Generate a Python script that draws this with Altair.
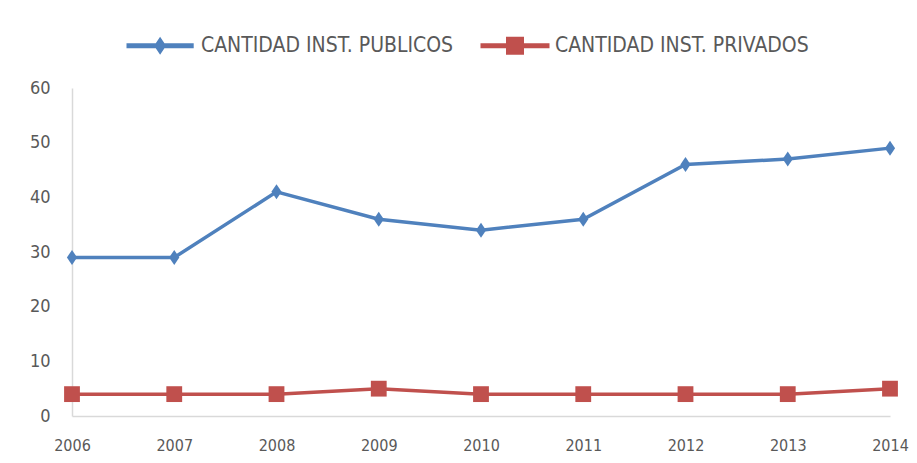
import altair as alt
import pandas as pd

years = ["2006", "2007", "2008", "2009", "2010", "2011", "2012", "2013", "2014"]
publicos = [29, 29, 41, 36, 34, 36, 46, 47, 49]
privados = [4, 4, 4, 5, 4, 4, 4, 4, 5]
series = ["CANTIDAD INST. PUBLICOS", "CANTIDAD INST. PRIVADOS"]
colors = ["#4F81BD", "#C0504D"]

df = pd.DataFrame({
    "year": years * 2,
    "value": publicos + privados,
    "series": [series[0]] * len(years) + [series[1]] * len(years),
})

FONT = "Liberation Sans Narrow, Arial Narrow, DejaVu Sans Condensed, Liberation Sans"

legend_blue = "M-1,-0.4 L10.2,-0.4 L10.2,0.4 L-1,0.4 Z M4.6,-1.5 L5.6,0 L4.6,1.5 L3.6,0 Z"
legend_red = "M-1,-0.4 L10.5,-0.4 L10.5,0.4 L-1,0.4 Z M3.25,-1.5 L6.25,-1.5 L6.25,1.5 L3.25,1.5 Z"

legend = alt.Legend(
    title=None, orient="none", direction="horizontal",
    legendX=50, legendY=-53, padding=0,
    symbolSize=144, symbolStrokeWidth=0, symbolOpacity=1,
    labelOffset=58, columnPadding=22, labelLimit=0,
    labelFont=FONT, labelFontSize=21, labelColor="#595959",
)

x_enc = alt.X("year:O", scale=alt.Scale(type="point", padding=0),
              axis=alt.Axis(title=None, labelAngle=0, ticks=False, grid=False,
                            domainColor="#d9d9d9", domainWidth=1.5,
                            labelFont=FONT, labelFontSize=16, labelColor="#595959",
                            labelPadding=21))
y_enc = alt.Y("value:Q", scale=alt.Scale(domain=[0, 60]),
              axis=alt.Axis(title=None, values=[0, 10, 20, 30, 40, 50, 60], ticks=False,
                            grid=False, domainColor="#d9d9d9", domainWidth=1.5,
                            labelFont=FONT, labelFontSize=18, labelColor="#595959",
                            labelPadding=22))
color_enc = alt.Color("series:N", scale=alt.Scale(domain=series, range=colors), legend=legend)

base = alt.Chart(df)

lines = base.mark_line(strokeWidth=3.5).encode(x=x_enc, y=y_enc, color=color_enc)

pts_pub = base.transform_filter(alt.datum.series == series[0]).mark_point(
    shape="M0,-1.25 L0.85,0 L0,1.25 L-0.85,0 Z", filled=True, size=144, opacity=1
).encode(x=x_enc, y=y_enc, color=color_enc)

pts_priv = base.transform_filter(alt.datum.series == series[1]).mark_point(
    shape="square", filled=True, size=250, opacity=1
).encode(x=x_enc, y=y_enc, color=color_enc)

legend_layer = base.mark_point(filled=True, opacity=0, size=144).encode(
    x=x_enc, y=y_enc, color=color_enc,
    shape=alt.Shape("series:N", scale=alt.Scale(domain=series, range=[legend_blue, legend_red]),
                    legend=legend),
)

chart = alt.layer(lines, pts_pub, pts_priv, legend_layer).properties(
    width=818, height=328,
    autosize=alt.AutoSizeParams(type="none"),
    padding={"left": 64, "top": 80, "right": 19, "bottom": 39},
    background="white",
).configure_view(stroke=None)

chart.save("out.html", embed_options={"renderer": "svg", "actions": False})
